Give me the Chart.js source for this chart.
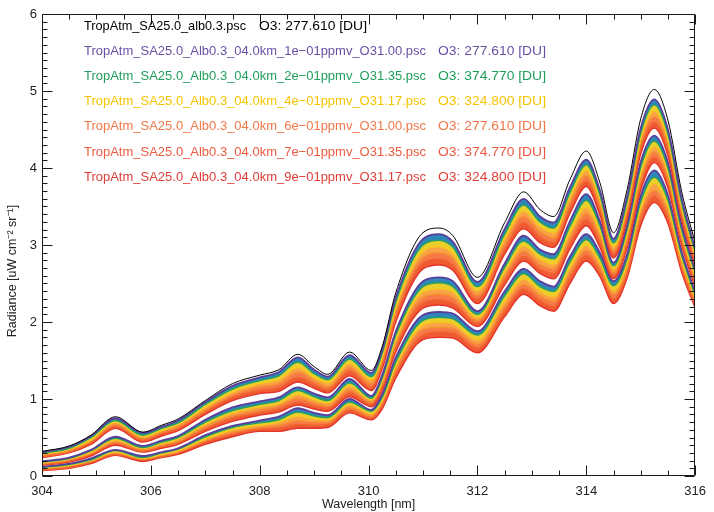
<!DOCTYPE html>
<html>
<head>
<meta charset="utf-8">
<script src="https://cdn.jsdelivr.net/npm/chart.js@4.4.1/dist/chart.umd.min.js"></script>
<style>
html,body{margin:0;padding:0;background:#fff;}
#wrap{width:714px;height:512px;position:relative;}
</style>
</head>
<body>
<div id="wrap"><canvas id="c" width="714" height="512"></canvas></div>
<script>
// ---------- data ----------
const wavelengths = [304.0,304.5,304.9,305.35,305.85,306.2,306.5,307.0,307.5,308.0,308.35,308.7,309.0,309.25,309.65,310.05,310.25,310.5,311.0,311.3,311.55,312.0,312.5,312.85,313.15,313.4,313.7,314.0,314.25,314.5,314.75,315.0,315.25,315.5,315.75,316.0];

// reference spectrum (black)
const radRef = [0.32,0.39,0.53,0.77,0.57,0.66,0.74,0.98,1.20,1.31,1.38,1.58,1.42,1.32,1.61,1.37,1.68,2.38,3.16,3.22,3.12,2.58,3.29,3.69,3.46,3.37,3.85,4.22,3.81,3.16,3.72,4.64,5.02,4.62,3.70,3.03];

// upper bundle (O3 277.610 DU)
const rad277_1 = [0.31,0.38,0.52,0.75,0.56,0.64,0.72,0.96,1.17,1.28,1.35,1.54,1.38,1.29,1.57,1.34,1.64,2.32,3.08,3.14,3.04,2.52,3.21,3.60,3.37,3.29,3.75,4.11,3.71,3.08,3.63,4.52,4.89,4.50,3.61,2.95];
const rad277_2 = [0.30,0.36,0.50,0.72,0.53,0.62,0.69,0.93,1.13,1.24,1.30,1.48,1.33,1.25,1.52,1.29,1.59,2.26,3.00,3.06,2.97,2.46,3.14,3.52,3.30,3.22,3.68,4.04,3.65,3.03,3.57,4.45,4.82,4.44,3.55,2.91];
const rad277_3 = [0.28,0.35,0.47,0.70,0.51,0.59,0.67,0.89,1.09,1.20,1.25,1.41,1.28,1.21,1.46,1.25,1.54,2.19,2.92,2.98,2.89,2.41,3.08,3.44,3.24,3.16,3.62,3.97,3.59,2.98,3.51,4.38,4.74,4.37,3.50,2.86];
const rad277_4 = [0.27,0.33,0.45,0.67,0.49,0.57,0.64,0.86,1.05,1.16,1.20,1.35,1.24,1.16,1.41,1.20,1.49,2.13,2.84,2.90,2.82,2.35,3.01,3.37,3.17,3.09,3.55,3.90,3.52,2.93,3.45,4.32,4.67,4.30,3.44,2.82];
const rad277_5 = [0.25,0.31,0.43,0.64,0.46,0.55,0.61,0.83,1.02,1.11,1.15,1.28,1.19,1.12,1.36,1.15,1.44,2.06,2.77,2.82,2.74,2.30,2.94,3.29,3.10,3.03,3.48,3.83,3.46,2.88,3.39,4.25,4.59,4.23,3.39,2.77];
const rad277_6 = [0.24,0.30,0.41,0.62,0.44,0.52,0.59,0.80,0.98,1.07,1.10,1.22,1.14,1.08,1.30,1.11,1.39,2.00,2.69,2.74,2.67,2.24,2.88,3.21,3.03,2.97,3.41,3.76,3.39,2.83,3.33,4.18,4.52,4.16,3.33,2.73];

// middle bundle (O3 324.800 DU)
const rad325_1 = [0.19,0.24,0.34,0.51,0.39,0.46,0.52,0.73,0.89,0.97,1.02,1.15,1.07,1.02,1.26,1.04,1.31,1.88,2.53,2.58,2.53,2.14,2.76,3.12,2.94,2.88,3.31,3.66,3.31,2.77,3.26,4.08,4.42,4.07,3.26,2.68];
const rad325_2 = [0.18,0.23,0.33,0.49,0.37,0.44,0.50,0.70,0.85,0.93,0.98,1.11,1.03,0.98,1.21,1.01,1.27,1.83,2.46,2.51,2.46,2.10,2.71,3.05,2.88,2.82,3.24,3.58,3.25,2.73,3.20,4.01,4.35,4.00,3.20,2.64];
const rad325_3 = [0.17,0.22,0.31,0.47,0.36,0.42,0.48,0.67,0.82,0.90,0.94,1.06,0.99,0.95,1.17,0.99,1.23,1.77,2.39,2.43,2.39,2.06,2.65,2.99,2.82,2.75,3.16,3.49,3.18,2.69,3.14,3.93,4.28,3.94,3.15,2.59];
const rad325_4 = [0.16,0.21,0.29,0.44,0.34,0.40,0.45,0.64,0.78,0.86,0.91,1.01,0.95,0.91,1.12,0.96,1.19,1.72,2.32,2.36,2.32,2.02,2.60,2.92,2.75,2.69,3.09,3.41,3.11,2.64,3.08,3.86,4.21,3.87,3.10,2.55];
const rad325_5 = [0.15,0.19,0.28,0.42,0.32,0.38,0.43,0.61,0.75,0.82,0.87,0.96,0.91,0.88,1.08,0.93,1.15,1.66,2.25,2.29,2.25,1.98,2.54,2.85,2.69,2.63,3.02,3.33,3.04,2.60,3.02,3.79,4.14,3.81,3.05,2.50];
const rad325_6 = [0.14,0.18,0.26,0.40,0.31,0.36,0.41,0.58,0.71,0.79,0.83,0.92,0.87,0.84,1.03,0.90,1.11,1.61,2.18,2.22,2.18,1.94,2.48,2.79,2.63,2.56,2.95,3.25,2.97,2.56,2.96,3.71,4.07,3.74,3.00,2.45];

// lower bundle (O3 374.770 DU)
const rad375_1 = [0.12,0.16,0.23,0.34,0.26,0.31,0.36,0.53,0.65,0.72,0.77,0.88,0.82,0.79,1.00,0.86,1.06,1.54,2.09,2.13,2.11,1.88,2.40,2.69,2.53,2.46,2.85,3.14,2.90,2.53,2.88,3.64,3.97,3.65,2.92,2.39];
const rad375_2 = [0.11,0.15,0.21,0.33,0.24,0.30,0.35,0.51,0.63,0.69,0.73,0.83,0.78,0.76,0.96,0.84,1.02,1.48,2.02,2.06,2.04,1.83,2.34,2.63,2.46,2.40,2.78,3.07,2.83,2.47,2.82,3.56,3.88,3.58,2.87,2.35];
const rad375_3 = [0.10,0.14,0.20,0.31,0.23,0.28,0.33,0.48,0.60,0.66,0.70,0.78,0.74,0.73,0.93,0.81,0.98,1.43,1.96,2.00,1.98,1.77,2.27,2.56,2.40,2.33,2.71,3.00,2.77,2.41,2.76,3.48,3.80,3.50,2.81,2.31];
const rad375_4 = [0.09,0.13,0.19,0.30,0.22,0.27,0.31,0.46,0.57,0.63,0.66,0.72,0.70,0.70,0.89,0.78,0.95,1.38,1.90,1.93,1.92,1.71,2.20,2.49,2.34,2.27,2.64,2.93,2.71,2.36,2.69,3.41,3.71,3.43,2.76,2.27];
const rad375_5 = [0.08,0.11,0.18,0.28,0.21,0.25,0.30,0.44,0.54,0.61,0.62,0.67,0.66,0.67,0.86,0.75,0.91,1.33,1.83,1.87,1.86,1.66,2.14,2.43,2.28,2.20,2.57,2.86,2.65,2.30,2.63,3.33,3.63,3.35,2.70,2.22];
const rad375_6 = [0.07,0.10,0.16,0.27,0.19,0.24,0.28,0.41,0.51,0.58,0.58,0.62,0.62,0.63,0.82,0.73,0.87,1.27,1.77,1.80,1.79,1.60,2.07,2.36,2.21,2.14,2.50,2.79,2.59,2.24,2.57,3.25,3.55,3.28,2.65,2.18];

const xTickLabels = [304,306,308,310,312,314,316];
const yTickLabels = [0,1,2,3,4,5,6];

const legendFiles = [
  'TropAtm_SA25.0_alb0.3.psc',
  'TropAtm_SA25.0_Alb0.3_04.0km_1e\u221201ppmv_O31.00.psc',
  'TropAtm_SA25.0_Alb0.3_04.0km_2e\u221201ppmv_O31.35.psc',
  'TropAtm_SA25.0_Alb0.3_04.0km_4e\u221201ppmv_O31.17.psc',
  'TropAtm_SA25.0_Alb0.3_04.0km_6e\u221201ppmv_O31.00.psc',
  'TropAtm_SA25.0_Alb0.3_04.0km_7e\u221201ppmv_O31.35.psc',
  'TropAtm_SA25.0_Alb0.3_04.0km_9e\u221201ppmv_O31.17.psc'
];
const legendO3 = ['O3: 277.610 [DU]','O3: 277.610 [DU]','O3: 374.770 [DU]','O3: 324.800 [DU]','O3: 277.610 [DU]','O3: 374.770 [DU]','O3: 324.800 [DU]'];
const xTitle = 'Wavelength [nm]';
const yTitle = 'Radiance [uW cm\u207B\u00B2 sr\u207B\u00B9]';

// ---------- styles ----------
const legendColors = ['#000000','#6a50a4','#1f9e5a','#f5c400','#f07848','#ee5a40','#de3e38'];
const lineColors = ['#5b3d9c','#22a060','#f6c81e','#f7902e','#f2642e','#e3352a'];
const stripeColors = ['#2f86b8','#e9cf2c','#f8a446','#f57a48','#ef5a34'];

function pts(arr){ return wavelengths.map((w,i)=>({x:w,y:arr[i]})); }

const bundles = [
  [rad277_1,rad277_2,rad277_3,rad277_4,rad277_5,rad277_6],
  [rad325_1,rad325_2,rad325_3,rad325_4,rad325_5,rad325_6],
  [rad375_1,rad375_2,rad375_3,rad375_4,rad375_5,rad375_6]
];

const datasets = [{
  data: pts(radRef), borderColor:'#000', borderWidth:1, fill:false
}];
bundles.forEach(b=>{
  b.forEach((arr,k)=>{
    datasets.push({
      data: pts(arr),
      borderColor: lineColors[k],
      borderWidth: k===0 ? 1.8 : 1.4,
      fill: k===0 ? false : '-1',
      backgroundColor: k===0 ? 'transparent' : stripeColors[k-1]
    });
  });
});

const framePlugin = {
  id:'frame',
  afterDraw(chart){
    const {ctx, chartArea:a, scales:{x,y}} = chart;
    ctx.save();
    ctx.strokeStyle = '#1a1a1a';
    ctx.lineWidth = 1;
    const L = Math.round(a.left)+0.5, R = Math.round(a.right)-0.5, T = Math.round(a.top)+0.5, B = Math.round(a.bottom)-0.5;
    ctx.beginPath();
    ctx.rect(L, T, R-L, B-T);
    for(let i=0;i<=24;i++){
      const v = x.min + i*0.5;
      const px = Math.round(x.getPixelForValue(v))+0.5;
      const len = (i%4===0) ? 10 : 5;
      ctx.moveTo(px,B); ctx.lineTo(px,B-len);
      ctx.moveTo(px,T); ctx.lineTo(px,T+len);
    }
    for(let i=0;i<=60;i++){
      const v = i*0.1;
      const py = Math.round(y.getPixelForValue(v))+0.5;
      const len = (i%10===0) ? 10 : 5;
      ctx.moveTo(L,py); ctx.lineTo(L+len,py);
      ctx.moveTo(R,py); ctx.lineTo(R-len,py);
    }
    ctx.stroke();

    ctx.fillStyle = '#222';
    ctx.font = '12.5px "Liberation Sans", Arial, sans-serif';
    ctx.textAlign = 'center';
    ctx.textBaseline = 'middle';
    ctx.fillText(xTitle, (a.left+a.right)/2, 505);
    ctx.save();
    ctx.translate(13, 271);
    ctx.rotate(-Math.PI/2);
    ctx.fillText(yTitle, 0, 0);
    ctx.restore();

    ctx.textAlign = 'left';
    ctx.font = '13px "Liberation Sans", Arial, sans-serif';
    const ys = [26,51,76,101,126.5,152,177];
    legendFiles.forEach((t,i)=>{
      ctx.fillStyle = legendColors[i];
      const wFile = i===0 ? 162 : 342;
      const xO3 = i===0 ? 259 : 438;
      const m1 = ctx.measureText(t).width;
      ctx.save(); ctx.translate(84, ys[i]); ctx.scale(wFile/m1,1); ctx.fillText(t,0,0); ctx.restore();
      const m2 = ctx.measureText(legendO3[i]).width;
      ctx.save(); ctx.translate(xO3, ys[i]); ctx.scale(108/m2,1); ctx.fillText(legendO3[i],0,0); ctx.restore();
    });
    ctx.restore();
  }
};

new Chart(document.getElementById('c'), {
  type:'line',
  data:{datasets},
  options:{
    responsive:false,
    animation:false,
    devicePixelRatio:1,
    events:[],
    layout:{padding:{left:0,right:11,top:14,bottom:0}},
    elements:{point:{radius:0}, line:{cubicInterpolationMode:'monotone'}},
    plugins:{legend:{display:false}, tooltip:{enabled:false}, filler:{propagate:false}},
    scales:{
      x:{
        type:'linear', min:304, max:316,
        afterFit(s){ s.height = 36; },
        afterBuildTicks(s){ s.ticks = xTickLabels.map(v=>({value:v})); },
        grid:{display:false, drawTicks:false},
        border:{display:false},
        ticks:{autoSkip:false, maxRotation:0, padding:8, color:'#222', font:{family:'"Liberation Sans", Arial, sans-serif', size:13}}
      },
      y:{
        type:'linear', min:0, max:6,
        afterFit(s){ s.width = 42; },
        afterBuildTicks(s){ s.ticks = yTickLabels.map(v=>({value:v})); },
        grid:{display:false, drawTicks:false},
        border:{display:false},
        ticks:{padding:5, color:'#222', font:{family:'"Liberation Sans", Arial, sans-serif', size:13}}
      }
    }
  },
  plugins:[framePlugin]
});
</script>
</body>
</html>
